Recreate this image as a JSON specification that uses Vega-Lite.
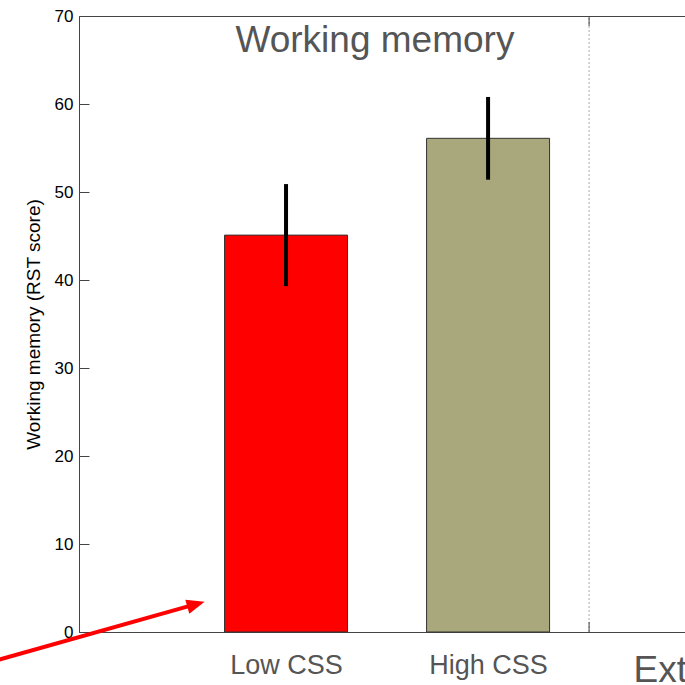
{
  "$schema": "https://vega.github.io/schema/vega-lite/v6.json",
  "autosize": "none",
  "width": 606,
  "height": 616,
  "padding": {"left": 79, "top": 16, "right": 0, "bottom": 53},
  "config": {
    "view": {"stroke": "#444", "strokeWidth": 1},
    "font": "Liberation Sans"
  },
  "datasets": {
    "bars": [
      {"group": "Low CSS", "pos": 1, "score": 45.1, "lo": 39.3, "hi": 50.9},
      {"group": "High CSS", "pos": 2, "score": 56.1, "lo": 51.4, "hi": 60.8}
    ],
    "sep": [{"pos": 2.5, "y0": 0, "y1": 70}],
    "septicks": [{"pos": 2.5, "y0": 0, "y1": 1.14}, {"pos": 2.5, "y0": 68.86, "y1": 70}],
    "arrow": [{"x0": -0.433, "y0": -3.22, "x1": 0.55, "y1": 3.136, "xt": 0.597, "yt": 3.44}],
    "labels": [
      {"txt": "Working memory", "x": 1.44, "y": 65.94, "kind": "title"},
      {"txt": "Ext", "x": 2.72, "y": -5.65, "kind": "next"}
    ]
  },
  "encoding": {
    "x": {"type": "quantitative"},
    "y": {"type": "quantitative"}
  },
  "layer": [
    {
      "data": {"name": "sep"},
      "mark": {"type": "rule", "color": "#aaaaaa", "strokeWidth": 1, "strokeDash": [2, 2]},
      "encoding": {
        "x": {"field": "pos", "type": "quantitative", "scale": {"domain": [0, 2.95], "nice": false, "zero": false}, "axis": {"values": [1, 2], "labelExpr": "datum.value == 1 ? 'Low CSS' : 'High CSS'", "ticks": false, "grid": false, "labelFontSize": 27, "labelColor": "#555555", "labelPadding": 20, "domainColor": "#444444", "title": null}},
        "y": {"field": "y0", "type": "quantitative", "scale": {"domain": [0, 70], "nice": false}, "axis": {"values": [0, 10, 20, 30, 40, 50, 60, 70], "grid": false, "tickSize": -10, "tickColor": "#444444", "labelPadding": 16, "labelFontSize": 17, "labelColor": "#000000", "domainColor": "#444444", "title": "Working memory (RST score)", "titleFontSize": 19, "titleFontWeight": "normal", "titleColor": "#000000", "titlePadding": 11}},
        "y2": {"field": "y1"}
      }
    },
    {
      "data": {"name": "septicks"},
      "mark": {"type": "rule", "color": "#444444", "strokeWidth": 1},
      "encoding": {
        "x": {"field": "pos", "type": "quantitative"},
        "y": {"field": "y0", "type": "quantitative"},
        "y2": {"field": "y1"}
      }
    },
    {
      "data": {"name": "bars"},
      "mark": {"type": "bar", "orient": "vertical", "width": 123, "stroke": "#333333", "strokeWidth": 1},
      "encoding": {
        "x": {"field": "pos", "type": "quantitative"},
        "y": {"field": "score", "type": "quantitative"},
        "color": {"field": "group", "type": "nominal", "scale": {"domain": ["Low CSS", "High CSS"], "range": ["#ff0000", "#a8a87c"]}, "legend": null}
      }
    },
    {
      "data": {"name": "bars"},
      "mark": {"type": "rule", "color": "#000000", "strokeWidth": 4},
      "encoding": {
        "x": {"field": "pos", "type": "quantitative"},
        "y": {"field": "lo", "type": "quantitative"},
        "y2": {"field": "hi"}
      }
    },
    {
      "data": {"name": "labels"},
      "transform": [{"filter": "datum.kind == 'title'"}],
      "mark": {"type": "text", "align": "center", "baseline": "alphabetic", "fontSize": 37, "color": "#555555"},
      "encoding": {
        "x": {"field": "x", "type": "quantitative"},
        "y": {"field": "y", "type": "quantitative"},
        "text": {"field": "txt"}
      }
    },
    {
      "data": {"name": "labels"},
      "transform": [{"filter": "datum.kind == 'next'"}],
      "mark": {"type": "text", "align": "left", "baseline": "alphabetic", "fontSize": 37, "color": "#555555"},
      "encoding": {
        "x": {"field": "x", "type": "quantitative"},
        "y": {"field": "y", "type": "quantitative"},
        "text": {"field": "txt"}
      }
    },
    {
      "data": {"name": "arrow"},
      "mark": {"type": "rule", "color": "#ff0000", "strokeWidth": 4},
      "encoding": {
        "x": {"field": "x0", "type": "quantitative"},
        "y": {"field": "y0", "type": "quantitative"},
        "x2": {"field": "x1"},
        "y2": {"field": "y1"}
      }
    },
    {
      "data": {"name": "arrow"},
      "mark": {"type": "point", "shape": "M0,0 L-2,-0.8 L-2,0.8 Z", "size": 324, "filled": true, "color": "#ff0000", "opacity": 1, "angle": 343.9},
      "encoding": {
        "x": {"field": "xt", "type": "quantitative"},
        "y": {"field": "yt", "type": "quantitative"}
      }
    }
  ]
}
